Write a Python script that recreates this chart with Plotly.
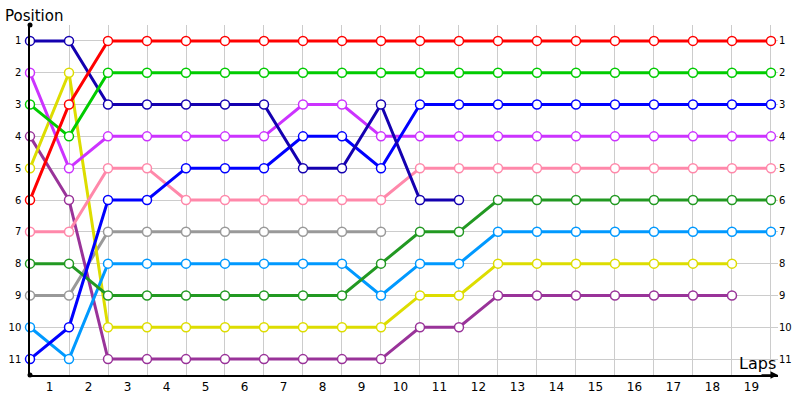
import plotly.graph_objects as go

# lap index 0..19 (0 = grid), positions 1..11
laps = list(range(20))
lap_labels = [str(i) for i in range(1, 20)]
positions = list(range(1, 12))

red = [6, 3, 1, 1, 1, 1, 1, 1, 1, 1, 1, 1, 1, 1, 1, 1, 1, 1, 1, 1]
green = [3, 4, 2, 2, 2, 2, 2, 2, 2, 2, 2, 2, 2, 2, 2, 2, 2, 2, 2, 2]
navy = [1, 1, 3, 3, 3, 3, 3, 5, 5, 3, 6, 6]
blue = [11, 10, 6, 6, 5, 5, 5, 4, 4, 5, 3, 3, 3, 3, 3, 3, 3, 3, 3, 3]
violet = [2, 5, 4, 4, 4, 4, 4, 3, 3, 4, 4, 4, 4, 4, 4, 4, 4, 4, 4, 4]
pink = [7, 7, 5, 5, 6, 6, 6, 6, 6, 6, 5, 5, 5, 5, 5, 5, 5, 5, 5, 5]
darkgreen = [8, 8, 9, 9, 9, 9, 9, 9, 9, 8, 7, 7, 6, 6, 6, 6, 6, 6, 6, 6]
skyblue = [10, 11, 8, 8, 8, 8, 8, 8, 8, 9, 8, 8, 7, 7, 7, 7, 7, 7, 7, 7]
grey = [9, 9, 7, 7, 7, 7, 7, 7, 7, 7]
yellow = [5, 2, 10, 10, 10, 10, 10, 10, 10, 10, 9, 9, 8, 8, 8, 8, 8, 8, 8]
purple = [4, 6, 11, 11, 11, 11, 11, 11, 11, 11, 10, 10, 9, 9, 9, 9, 9, 9, 9]

series = [
    (grey, "#999999"),
    (purple, "#993399"),
    (yellow, "#dddd00"),
    (skyblue, "#0099ff"),
    (darkgreen, "#229922"),
    (pink, "#ff88aa"),
    (violet, "#cc33ff"),
    (blue, "#0000ff"),
    (navy, "#1400b0"),
    (green, "#00cc00"),
    (red, "#ff0000"),
]

fig = go.Figure()
for vals, col in series:
    fig.add_trace(go.Scatter(
        x=laps[:len(vals)], y=vals, mode="lines+markers",
        line=dict(color=col, width=3),
        marker=dict(size=9, color="white", line=dict(color=col, width=1.5)),
        showlegend=False, hoverinfo="skip", cliponaxis=False,
    ))

# dummy trace so the right-hand position axis is drawn
fig.add_trace(go.Scatter(x=[None], y=[None], yaxis="y2", showlegend=False))

dot = dict(type="circle", xref="paper", yref="paper",
           xsizemode="pixel", ysizemode="pixel",
           x0=-2.5, x1=2.5, y0=-2.5, y1=2.5,
           fillcolor="black", line=dict(color="black", width=0))

fig.update_layout(
    width=800, height=400,
    margin=dict(l=30, r=22, t=25, b=25),
    paper_bgcolor="white", plot_bgcolor="white",
    font=dict(family="DejaVu Sans", size=10, color="black"),
    xaxis=dict(
        range=[0, 19.18], automargin=False,
        tickvals=[i + 0.5 for i in range(19)], ticktext=lap_labels,
        showgrid=False, zeroline=False, ticks="",
        tickfont=dict(size=12),
        showline=True, linecolor="black", linewidth=1.5,
        minor=dict(tickvals=laps, showgrid=True, gridcolor="#cccccc", gridwidth=1, ticks=""),
    ),
    yaxis=dict(
        range=[11.5, 0.5], tickvals=positions, automargin=False,
        showgrid=True, gridcolor="#cccccc", gridwidth=1,
        zeroline=False, ticks="", ticklabelstandoff=5,
        showline=True, linecolor="black", linewidth=1.5,
    ),
    yaxis2=dict(
        range=[11.5, 0.5], tickvals=positions, overlaying="y", side="right",
        automargin=False,
        showgrid=False, zeroline=False, ticks="", showline=False,
        ticklabelstandoff=0,
    ),
    annotations=[
        dict(text="Position", xref="paper", yref="paper", x=0, y=1, xshift=-27, yshift=-2,
             xanchor="left", yanchor="bottom", showarrow=False, font=dict(size=15)),
        dict(text="Laps", xref="paper", yref="paper", x=1, y=0, xshift=0, yshift=0,
             xanchor="right", yanchor="bottom", showarrow=False, font=dict(size=16)),
        dict(text="", xref="paper", yref="paper", x=1, y=0, ax=-18, ay=0,
             showarrow=True, arrowhead=2, arrowsize=1, arrowwidth=1.5, arrowcolor="black"),
    ],
    shapes=[
        dict(dot, xanchor=0, yanchor=1),
        dict(dot, xanchor=0, yanchor=0),
    ],
)

fig.write_html("out.html", config={"displayModeBar": False},
               post_script="document.body.style.margin='0';")
